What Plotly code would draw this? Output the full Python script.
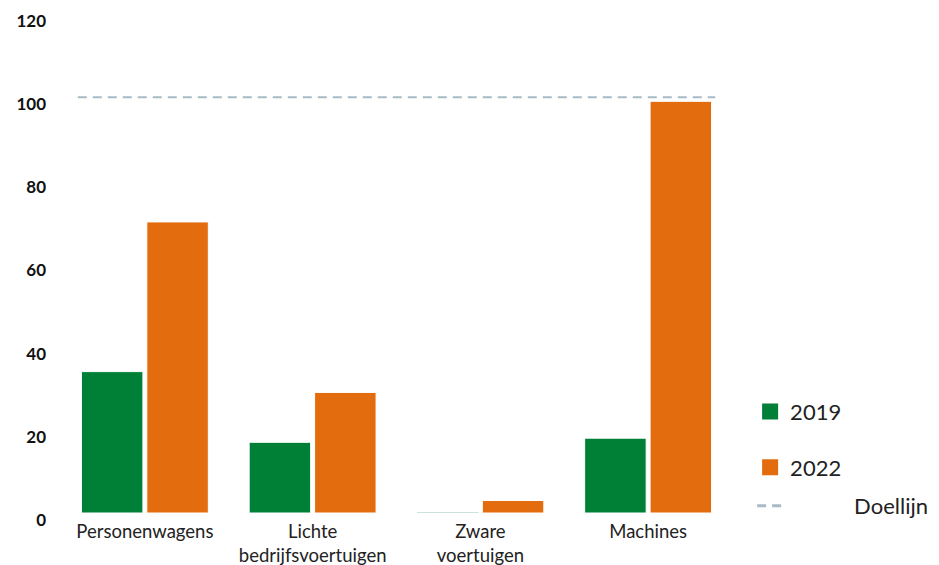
import plotly.graph_objects as go

# Categories and values
categories = ["Personenwagens", "Lichte<br>bedrijfsvoertuigen", "Zware<br>voertuigen", "Machines"]
values_2019 = [34, 17, 0, 18]
values_2022 = [70, 29, 3, 99]
target = 100
y_ticks = [0, 20, 40, 60, 80, 100, 120]

GREEN = "#007f37"
ORANGE = "#e36c0e"
TARGET_COLOR = "#a8bac3"
FONT = "Lato"
NBSP = "\u00a0"

fig = go.Figure()

# Zero-height bars keep a faint outline so they stay visible on the baseline
outline_2019 = ["white" if v > 0 else "#bcd8d1" for v in values_2019]

fig.add_trace(go.Bar(
    x=categories, y=values_2019, name="2019", showlegend=False,
    marker=dict(color=GREEN, line=dict(color=outline_2019, width=1)),
    hoverinfo="y",
))
fig.add_trace(go.Bar(
    x=categories, y=values_2022, name="2022", showlegend=False,
    marker=dict(color=ORANGE, line=dict(color="white", width=1)),
    hoverinfo="y",
))

# Target line across the bar groups
fig.add_shape(
    type="line", xref="x", yref="y",
    x0=-0.4, x1=len(categories) - 1 + 0.4, y0=target, y1=target,
    line=dict(color=TARGET_COLOR, width=2, dash="9px,6px"),
    layer="below",
)

# Legend entries
fig.add_trace(go.Scatter(
    x=[None], y=[None], mode="markers", name="2019", legendgroup="a",
    marker=dict(symbol="square", size=16, color=GREEN),
))
fig.add_trace(go.Scatter(
    x=[None], y=[None], mode="markers", name="2022", legendgroup="b",
    marker=dict(symbol="square", size=16, color=ORANGE),
))
fig.add_trace(go.Scatter(
    x=[None], y=[None], mode="lines", name=NBSP * 11 + "Doellijn", legend="legend2",
    line=dict(color=TARGET_COLOR, width=3, dash="9px,6px"),
))

fig.update_layout(
    width=939, height=565,
    margin=dict(l=61, r=207, t=14, b=52, autoexpand=False),
    plot_bgcolor="white", paper_bgcolor="white",
    barmode="group", bargap=0.22, bargroupgap=0.06,
    font=dict(family=FONT, color="#222222"),
    showlegend=True,
    legend=dict(
        x=1.027, xanchor="left", y=0.245, yanchor="top",
        font=dict(size=22, color="#222222", family=FONT),
        traceorder="grouped", tracegroupgap=24,
        itemwidth=30, bgcolor="rgba(0,0,0,0)",
    ),
    legend2=dict(
        x=1.03, xanchor="left", y=0.056, yanchor="top",
        font=dict(size=22, color="#222222", family=FONT),
        itemwidth=30, bgcolor="rgba(0,0,0,0)",
    ),
    xaxis=dict(
        showgrid=False, showline=False, zeroline=False, ticks="",
        tickfont=dict(size=18.5, color="#222222"),
        ticklabelstandoff=5,
        range=[-0.5, len(categories) - 0.5],
    ),
    yaxis=dict(
        range=[0, 120], tickvals=y_ticks,
        showgrid=False, showline=False, zeroline=False, ticks="",
        tickfont=dict(size=17, color="#111111", family=FONT, weight="bold"),
        ticklabelstandoff=14, ticklabelshift=7,
    ),
)

fig.write_html("out.html")
